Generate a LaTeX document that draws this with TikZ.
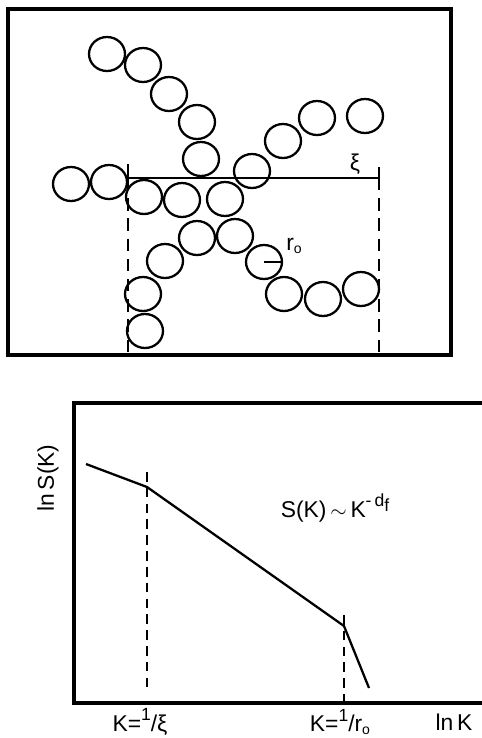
\documentclass[tikz,border=0pt]{standalone}
\usepackage{fontspec}
\setmainfont{Liberation Sans}
\usetikzlibrary{positioning}

\newcommand{\supx}[1]{\raisebox{0.85ex}{\fontsize{10}{10}\selectfont #1}}
\newcommand{\subo}{\raisebox{-0.25ex}{\fontsize{8}{8}\selectfont o}}

\begin{document}
\begin{tikzpicture}[x=0.02cm, y=-0.02cm,
    frame/.style={line width=2pt},
    bead/.style={line width=1.3pt},
    rule/.style={line width=1.3pt},
    guide/.style={line width=1pt, dash pattern=on 7pt off 4.5pt},
    plotguide/.style={line width=1pt, dash pattern=on 5.5pt off 3.5pt},
    lbl/.style={font=\fontsize{13}{15}\selectfont, inner sep=1pt},
]
\useasboundingbox (0,0) rectangle (482,738);

% ── CLUSTER PANEL ────────────────────────────────────────────────────────────
\draw[frame] (8,9) rectangle (451,355);

\foreach \cx/\cy in {107/54, 143/65, 169/94, 197/122, 201/159,
                     283/141, 317/118, 365/116, 252/171,
                     71/184, 109/182, 144/197, 182/200, 225/199,
                     197/238, 235/236, 165/261,
                     143/294, 145/331, 284/294, 323/299, 361/289}
    \draw[bead] (\cx,\cy) ellipse [x radius=18, y radius=17];

% bead carrying the radius
\coordinate (rc) at (264,262);
\coordinate (re) at (282,262);
\draw[bead] (rc) ellipse [x radius=18, y radius=17];
\draw[rule] (rc) -- (re);
\node[lbl] at (294,246) (rlab) {r\subo};

% correlation length
\coordinate (xl) at (128,178);
\coordinate (xr) at (379,178);
\coordinate (xlt) at (128,164);
\coordinate (xrt) at (379,167);
\coordinate (xlb) at (128,355);
\coordinate (xrb) at (379,355);
\draw[rule] (xl) -- (xr);
\draw[rule] (xlt) -- (xl);
\draw[rule] (xrt) -- (xr);
\draw[guide] (xl) -- (xlb);
\draw[guide] (xr) -- (xrb);
\node[lbl] at (355,164) (xilab) {ξ};

% ── STRUCTURE FACTOR PLOT ────────────────────────────────────────────────────
\coordinate (tr) at (482,403);
\coordinate (o)  at (74,703);
\draw[frame] (tr) -- (74,403) -- (o) -- (482,703);

\coordinate (p0) at (86,464);
\coordinate (p1) at (147,487);
\coordinate (p2) at (344,626);
\coordinate (p3) at (369,688);
\draw[rule] (p0) -- (p1) -- (p2) -- (p3);

\coordinate (g1t) at (147,472);
\coordinate (g1b) at (147,693);
\coordinate (g2t) at (344,615);
\coordinate (g2b) at (344,703);
\draw[plotguide] (g1t) -- (g1b);
\draw[plotguide] (g2t) -- (g2b);

\node[lbl, rotate=90] at (48,478) (ylab) {ln\,S(K)};
\node[lbl] at (335,508) (law) {S(K)\,$\sim$\,K\supx{-\,d\raisebox{-0.45ex}{f}}};
\node[lbl] at (140,722) (k1) {K=\supx{1}/ξ};
\node[lbl] at (340,722) (k2) {K=\supx{1}/r\subo};
\node[lbl] at (454,722) (xlab) {ln\,K};

\end{tikzpicture}
\end{document}
